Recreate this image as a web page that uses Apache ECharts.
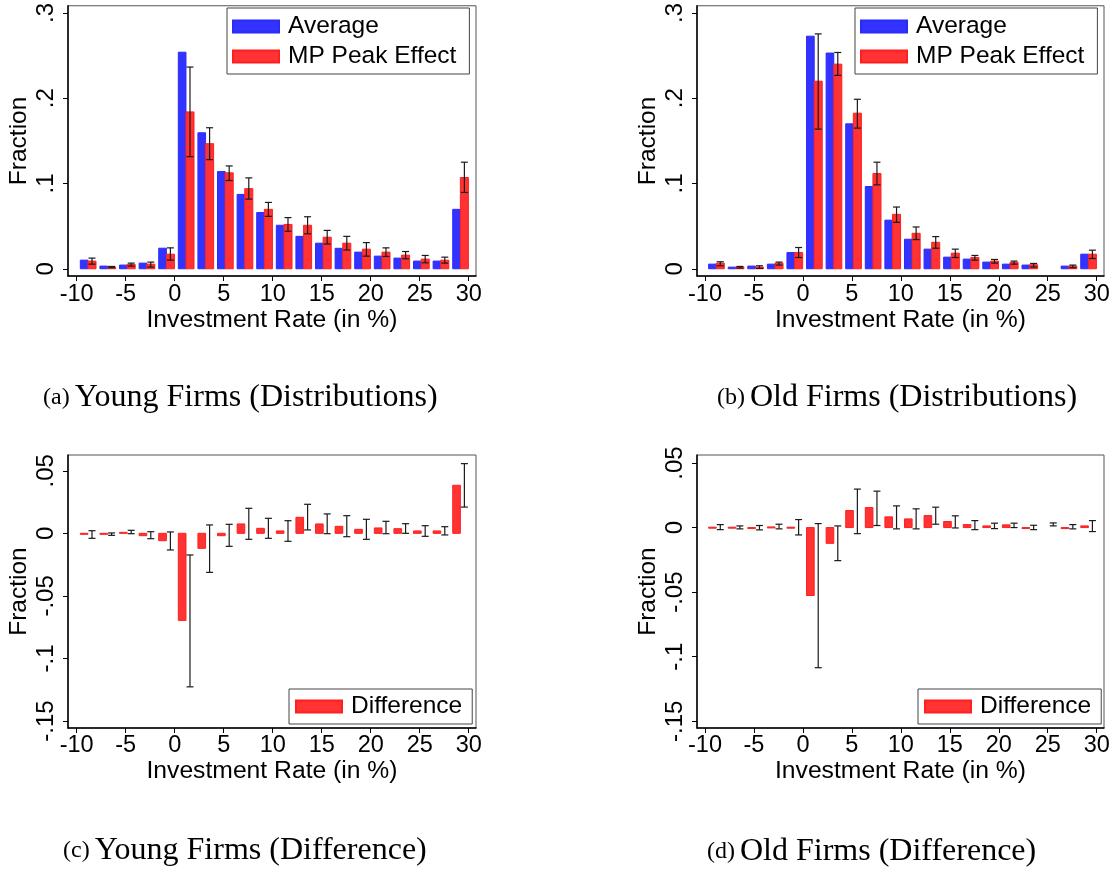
<!DOCTYPE html>
<html><head><meta charset="utf-8">
<script src="https://cdn.jsdelivr.net/npm/echarts@6/dist/echarts.min.js"></script>
<style>html,body{margin:0;padding:0;background:#fff}#c{width:1116px;height:873px}</style>
</head><body><div id="c"></div>
<script>
// ---------------- data ----------------
const binStarts = [-10,-8,-6,-4,-2,0,2,4,6,8,10,12,14,16,18,20,22,24,26,28];

const youngAverage  = [0.0101,0.0031,0.0043,0.0066,0.0241,0.254,0.1595,0.114,0.0872,0.066,0.051,0.038,0.030,0.024,0.0195,0.0148,0.0125,0.009,0.009,0.0697];
const youngPeak     = [0.009,0.002,0.005,0.0054,0.0171,0.184,0.1467,0.1125,0.094,0.0697,0.052,0.051,0.037,0.030,0.023,0.0195,0.016,0.0113,0.0101,0.107];
const youngPeakLow  = [0.0054,0.0012,0.0031,0.002,0.0101,0.1315,0.128,0.1035,0.0817,0.0615,0.044,0.041,0.029,0.022,0.0148,0.0144,0.0117,0.007,0.0066,0.0895];
const youngPeakHigh = [0.0125,0.0027,0.0066,0.0078,0.0245,0.2366,0.1654,0.1206,0.1066,0.0778,0.060,0.061,0.045,0.038,0.0307,0.0245,0.0202,0.0156,0.0136,0.125];

const oldAverage  = [0.0054,0.0019,0.0031,0.0054,0.019,0.2728,0.253,0.170,0.0965,0.057,0.0346,0.023,0.0136,0.0113,0.0078,0.0054,0.0043,null,0.0031,0.0171];
const oldPeak     = [0.0066,0.002,0.002,0.0066,0.019,0.220,0.240,0.1825,0.1117,0.0638,0.0416,0.031,0.0183,0.0132,0.009,0.0074,0.0047,null,0.0031,0.0171];
const oldPeakLow  = [0.0035,0.0008,0.0004,0.0043,0.0132,0.1638,0.2268,0.165,0.0984,0.0545,0.0342,0.0241,0.0132,0.0101,0.0066,0.0054,0.002,null,0.0012,0.012];
const oldPeakHigh = [0.0082,0.0027,0.0035,0.0078,0.0249,0.2755,0.2537,0.1988,0.125,0.0724,0.049,0.0377,0.023,0.0156,0.0109,0.009,0.0062,null,0.0043,0.0218];

const youngDiff     = [-0.0008,-0.0005,0.0008,-0.0019,-0.0059,-0.0696,-0.012,-0.0019,0.0075,0.004,0.0019,0.0128,0.0075,0.0056,0.0032,0.0043,0.0037,0.0019,0.0019,0.0384];
const youngDiffLow  = [-0.004,-0.0016,-0.0003,-0.0043,-0.0133,-0.1227,-0.0312,-0.0104,-0.0048,-0.004,-0.0064,0.0027,-0.0003,-0.0027,-0.0048,-0.0003,0,-0.0024,-0.0013,0.021];
const youngDiffHigh = [0.0021,0.0003,0.0024,0.0013,0.0011,-0.0173,0.0067,0.0072,0.020,0.012,0.0101,0.0232,0.0155,0.0141,0.0112,0.0096,0.0077,0.0061,0.0053,0.0557];

const oldDiff     = [0.0003,0.0003,-0.0003,0.0005,0.0003,-0.0526,-0.0122,0.0132,0.0155,0.0083,0.0067,0.0093,0.0047,0.0023,0.0013,0.0021,-0.0003,null,-0.0002,0.0013];
const oldDiffLow  = [-0.0016,-0.001,-0.0018,-0.001,-0.0057,-0.1085,-0.0256,-0.0047,0.0016,-0.001,-0.001,0.0026,-0.0003,-0.0016,-0.0008,0,-0.0016,0.0013,-0.001,-0.0031];
const oldDiffHigh = [0.0023,0.0013,0.0016,0.0026,0.0062,0.0031,0.0013,0.0298,0.0282,0.0168,0.0145,0.0158,0.0091,0.0054,0.0034,0.0034,0.0018,0.0036,0.0023,0.0054];

const xTicks = [-10,-5,0,5,10,15,20,25,30];
const yTicksDist = [0,0.1,0.2,0.3];
const yTicksDiff = [0.05,0,-0.05,-0.1,-0.15];

const xTitle = 'Investment Rate (in %)';
const yTitle = 'Fraction';
const seriesNames = ['Average','MP Peak Effect','Difference'];
const captionTags = ['(a)','(b)','(c)','(d)'];
const captionTexts = ['Young Firms (Distributions)','Old Firms (Distributions)','Young Firms (Difference)','Old Firms (Difference)'];

// ---------------- styling ----------------
const SANS = '"Liberation Sans", Arial, sans-serif';
const SERIF = '"Liberation Serif", "Times New Roman", serif';
const BLUE = '#3333ff', BLUE_S = '#2a2aff';
const RED = '#ff3333', RED_S = '#ff1f1f';

const grids = [
  {left: 68,  top: 4,   width: 408, height: 272},
  {left: 697, top: 4,   width: 407, height: 272},
  {left: 68,  top: 455, width: 408, height: 273},
  {left: 697, top: 455, width: 407, height: 273}
];
const xRanges = [[-10.888, 30.745], [-10.817, 30.745], [-10.888, 30.745], [-10.817, 30.745]];
const yRanges = [[-0.0085, 0.3085], [-0.0085, 0.3085], [-0.1556, 0.0626], [-0.1552, 0.0562]];

function fmtY(v) {
  let s = String(Math.round(v * 1000) / 1000);
  s = s.replace(/^0\./, '.').replace(/^-0\./, '-.');
  return s;
}

function barRenderer(off0, off1, fill, stroke) {
  return function (params, api) {
    const lo = api.value(0), v = api.value(1);
    if (v == null || isNaN(v)) return null;
    const p0 = api.coord([lo + off0, 0]);
    const p1 = api.coord([lo + off1, v]);
    const x = Math.min(p0[0], p1[0]);
    const y = Math.min(p0[1], p1[1]);
    const w = Math.abs(p1[0] - p0[0]);
    const h = Math.max(Math.abs(p1[1] - p0[1]), 1);
    return {type: 'rect', shape: {x: x, y: y, width: w, height: h},
      style: {fill: fill, stroke: stroke, lineWidth: 1}};
  };
}
function errRenderer(off) {
  return function (params, api) {
    const lo = api.value(0), a = api.value(1), b = api.value(2);
    if (isNaN(a) || isNaN(b)) return null;
    const t = api.coord([lo + off, b]);
    const d = api.coord([lo + off, a]);
    const st = {stroke: '#1a1a1a', lineWidth: 1.2};
    return {type: 'group', children: [
      {type: 'line', shape: {x1: t[0], y1: t[1], x2: d[0], y2: d[1]}, style: st},
      {type: 'line', shape: {x1: t[0] - 3.5, y1: t[1], x2: t[0] + 3.5, y2: t[1]}, style: st},
      {type: 'line', shape: {x1: d[0] - 3.5, y1: d[1], x2: d[0] + 3.5, y2: d[1]}, style: st}
    ]};
  };
}
function zip2(vals) { return binStarts.map((b, i) => [b, vals[i] == null ? NaN : vals[i]]); }
function zip3(lo, hi) { return binStarts.map((b, i) => [b, lo[i] == null ? NaN : lo[i], hi[i] == null ? NaN : hi[i]]); }

const xAxes = grids.map((g, i) => ({
  type: 'value', gridIndex: i, min: xRanges[i][0], max: xRanges[i][1],
  splitLine: {show: false},
  axisLine: {show: true, onZero: false, lineStyle: {color: '#000', width: 1.5}},
  axisTick: {show: true, length: 5, customValues: xTicks, lineStyle: {color: '#000'}},
  axisLabel: {customValues: xTicks, fontFamily: SANS, fontSize: 23.5, color: '#000', margin: i < 2 ? 7 : 6},
  name: xTitle, nameLocation: 'middle', nameGap: i < 2 ? 32 : 31,
  nameTextStyle: {fontFamily: SANS, fontSize: 24.7, color: '#000'}
}));
const yAxes = grids.map((g, i) => {
  const ticks = i < 2 ? yTicksDist : yTicksDiff;
  return {
    type: 'value', gridIndex: i, min: yRanges[i][0], max: yRanges[i][1],
    splitLine: {show: false},
    axisLine: {show: true, onZero: false, lineStyle: {color: '#000', width: 1.5}},
    axisTick: {show: true, length: 5, customValues: ticks, lineStyle: {color: '#000'}},
    axisLabel: {customValues: ticks, rotate: 90, formatter: fmtY, fontFamily: SANS, fontSize: 24, color: '#000', margin: 10},
    name: yTitle, nameLocation: 'middle', nameGap: 36,
    nameTextStyle: {fontFamily: SANS, fontSize: 24.5, color: '#000'}
  };
});

const series = [];
function addDist(i, avg, peak, lo, hi) {
  series.push({type: 'custom', name: seriesNames[0], xAxisIndex: i, yAxisIndex: i,
    itemStyle: {color: BLUE, borderColor: BLUE_S, borderWidth: 1},
    encode: {x: 0, y: 1}, data: zip2(avg), renderItem: barRenderer(0.37, 1.15, BLUE, BLUE_S)});
  series.push({type: 'custom', name: seriesNames[1], xAxisIndex: i, yAxisIndex: i,
    itemStyle: {color: RED, borderColor: RED_S, borderWidth: 1},
    encode: {x: 0, y: 1}, data: zip2(peak), renderItem: barRenderer(1.15, 1.97, RED, RED_S)});
  series.push({type: 'custom', name: 'ci' + i, xAxisIndex: i, yAxisIndex: i,
    encode: {x: 0, y: [1, 2]}, data: zip3(lo, hi), renderItem: errRenderer(1.56), z: 3});
}
function addDiff(i, d, lo, hi) {
  series.push({type: 'custom', name: seriesNames[2], xAxisIndex: i, yAxisIndex: i,
    itemStyle: {color: RED, borderColor: RED_S, borderWidth: 1},
    encode: {x: 0, y: 1}, data: zip2(d), renderItem: barRenderer(0.37, 1.15, RED, RED_S)});
  series.push({type: 'custom', name: 'ci' + i, xAxisIndex: i, yAxisIndex: i,
    encode: {x: 0, y: [1, 2]}, data: zip3(lo, hi), renderItem: errRenderer(1.56), z: 3});
}
addDist(0, youngAverage, youngPeak, youngPeakLow, youngPeakHigh);
addDist(1, oldAverage, oldPeak, oldPeakLow, oldPeakHigh);
addDiff(2, youngDiff, youngDiffLow, youngDiffHigh);
addDiff(3, oldDiff, oldDiffLow, oldDiffHigh);

function legendCfg(left, top, names, pad) {
  return {
    left: left, top: top, orient: 'vertical', data: names, selectedMode: false,
    icon: 'rect', itemWidth: 46, itemHeight: 12, itemGap: 5,
    padding: pad, borderColor: '#444', borderWidth: 1, backgroundColor: '#fff',
    textStyle: {fontFamily: SANS, fontSize: 24.5, color: '#000', padding: [0, 0, 0, 4]}
  };
}
const legends = [
  legendCfg(227, 8, seriesNames.slice(0, 2), [6, 13, 5, 5]),
  legendCfg(855, 8, seriesNames.slice(0, 2), [6, 13, 5, 5]),
  legendCfg(289, 689, [seriesNames[2]], [5, 10, 5, 6]),
  legendCfg(918, 689, [seriesNames[2]], [5, 10, 5, 6])
];

const capPos = [[43, 382], [717, 382], [63, 835], [707, 836]];
const titles = captionTags.map((t, i) => ({
  left: capPos[i][0], top: capPos[i][1], padding: 0,
  text: '{s|' + t + '} {m|' + captionTexts[i] + '}',
  textStyle: {fontWeight: 'normal', rich: {
    s: {fontFamily: SERIF, fontSize: 24, fontWeight: 'normal', color: '#000'},
    m: {fontFamily: SERIF, fontSize: 32, fontWeight: 'normal', color: '#000'}
  }}
}));

const chart = echarts.init(document.getElementById('c'), null, {renderer: 'canvas'});
chart.setOption({
  animation: false,
  backgroundColor: '#fff',
  title: titles,
  legend: legends,
  grid: grids.map(g => Object.assign({show: true, borderColor: '#555', borderWidth: 1, backgroundColor: 'transparent', containLabel: false}, g)),
  xAxis: xAxes,
  yAxis: yAxes,
  series: series
});
</script>
</body></html>
